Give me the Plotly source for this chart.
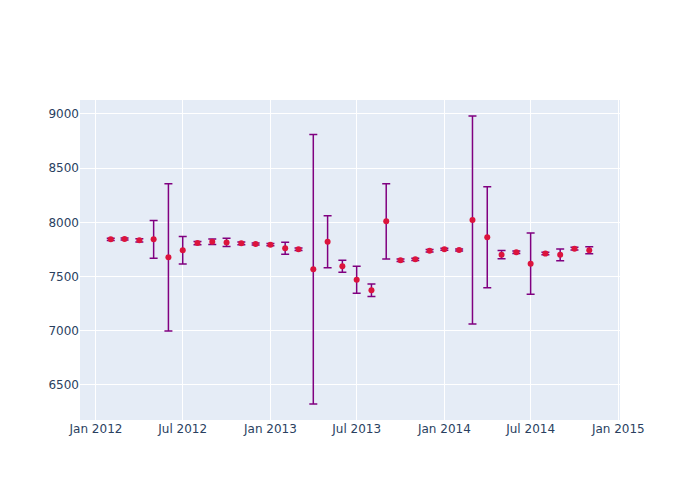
import plotly.graph_objects as go
import pandas as pd

# Monthly values, Feb 2012 -> Nov 2014
mois = pd.date_range("2012-02-01", "2014-11-01", freq="MS")

valeurs = [
    7843, 7846, 7834, 7843, 7677, 7742, 7809, 7821, 7815, 7806, 7800,
    7794, 7761, 7752, 7567, 7821, 7595, 7470, 7374, 8009, 7650, 7659, 7738,
    7752, 7745, 8021, 7862, 7702, 7724, 7619, 7712, 7700, 7757, 7742,
]

erreurs = [
    10, 10, 15, 175, 680, 127, 15, 25, 38, 12, 10,
    10, 55, 12, 1243, 240, 55, 125, 58, 347, 12, 10, 12,
    10, 10, 960, 466, 38, 12, 282, 12, 55, 12, 32,
]

COULEUR_POINT = "crimson"
COULEUR_BARRE = "purple"

fig = go.Figure()

fig.add_trace(go.Scatter(
    x=mois, y=valeurs,
    mode="markers",
    marker=dict(color=COULEUR_POINT, size=6),
    error_y=dict(type="data", array=erreurs, visible=True,
                 color=COULEUR_BARRE, thickness=1.5, width=4),
))

# la page ajoute 8px de marge au body : on compense ici
fig.update_layout(
    width=700, height=500,
    template="plotly",
    font=dict(family="DejaVu Sans", size=12, color="#2a3f5f"),
    margin=dict(l=72, r=88, t=92, b=88),
)

fig.write_html("out.html")
